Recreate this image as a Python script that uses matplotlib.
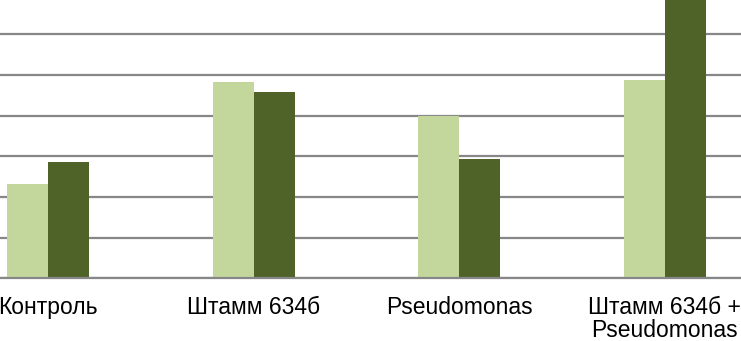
import matplotlib
matplotlib.use("Agg")
import matplotlib.pyplot as plt
import numpy as np

categories = ["Контроль", "Штамм 634б", "Pseudomonas", "Штамм 634б +\nPseudomonas"]
series_light = [2.31, 4.82, 3.98, 4.88]
series_dark = [2.85, 4.59, 2.92, 6.90]

light_color = "#C3D69B"
dark_color = "#4F6228"
grid_color = "#878787"

fig = plt.figure(figsize=(7.41, 3.41), dpi=100)
ax = fig.add_axes([0, 0.1839, 1, 0.8161])

x = np.arange(len(categories))
w = 0.2
ax.bar(x - w / 2, series_light, width=w, color=light_color, zorder=3)
ax.bar(x + w / 2, series_dark, width=w, color=dark_color, zorder=3)

ax.set_xlim(-0.235, 3.371)
ax.set_ylim(0, 6.84)
ax.set_yticks(np.arange(0, 7, 1))
ax.yaxis.grid(True, color=grid_color, linewidth=1.6, zorder=1)
ax.tick_params(axis="y", left=False, labelleft=False)
ax.set_xticks(x)
ax.set_xticklabels(categories, fontsize=16.5, family="Liberation Sans", linespacing=1.0)
ax.tick_params(axis="x", length=0, pad=13)
for s in ["top", "left", "right"]:
    ax.spines[s].set_visible(False)
ax.spines["bottom"].set_color(grid_color)
ax.spines["bottom"].set_linewidth(1.6)
ax.spines["bottom"].set_zorder(4)

fig.savefig("out.png", dpi=100)
